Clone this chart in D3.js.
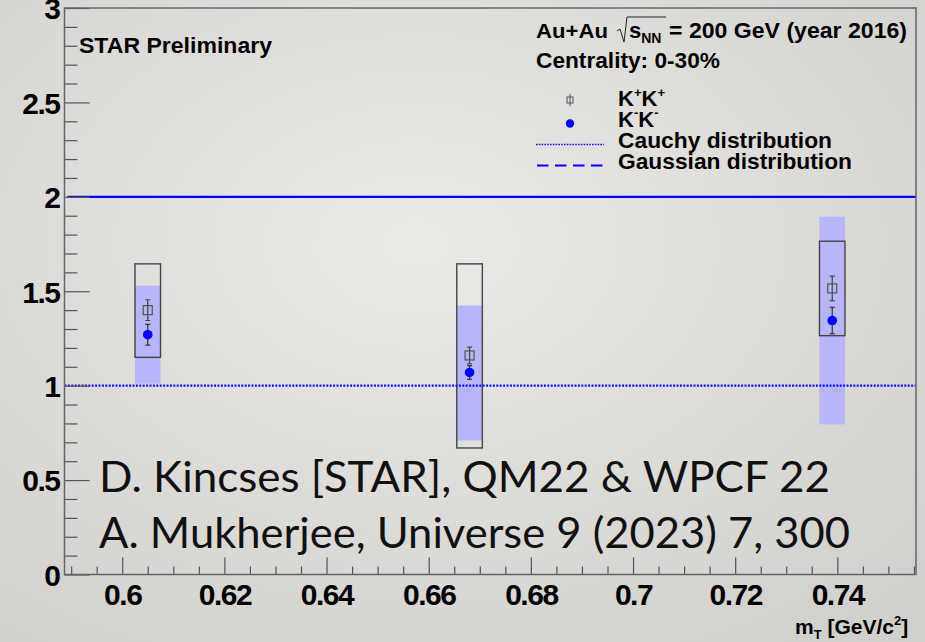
<!DOCTYPE html>
<html><head><meta charset="utf-8">
<script src="https://cdn.jsdelivr.net/npm/d3@7"></script>
<style>
html,body{margin:0;padding:0;}
svg{display:block;}
</style></head>
<body>
<svg id="c" width="925" height="642"></svg>
<script>
// ---- data ----
const mT        = [0.605, 0.668, 0.739];
const kpkp      = [1.40, 1.16, 1.515];
const kpkpErr   = [0.055, 0.044, 0.065];
const kpkpSysLo = [1.15, 0.67, 1.265];
const kpkpSysHi = [1.645, 1.645, 1.765];
const kmkm      = [1.27, 1.07, 1.345];
const kmkmErr   = [0.055, 0.036, 0.07];
const kmkmSysLo = [1.01, 0.71, 0.795];
const kmkmSysHi = [1.53, 1.425, 1.895];
const sysHalfWidth = 0.0025;
const cauchyLevel = 1;
const gaussLevel = 2;
const xMajorTicks = [0.6, 0.62, 0.64, 0.66, 0.68, 0.7, 0.72, 0.74];
const xMinorTicks = [0.59,0.595,0.605,0.61,0.615,0.625,0.63,0.635,0.645,0.65,0.655,0.665,0.67,0.675,0.685,0.69,0.695,0.705,0.71,0.715,0.725,0.73,0.735,0.745,0.75,0.755];
const yMajorTicks = [0, 0.5, 1, 1.5, 2, 2.5, 3];
const yMinorTicks = [0.1,0.2,0.3,0.4,0.6,0.7,0.8,0.9,1.1,1.2,1.3,1.4,1.6,1.7,1.8,1.9,2.1,2.2,2.3,2.4,2.6,2.7,2.8,2.9];

const svg = d3.select("#c");
const W = 925, H = 642;
const L = 64.5, R = 916, T = 8, B = 574.5;
const x = d3.scaleLinear().domain([0.5887, 0.7554]).range([L, R]);
const y = d3.scaleLinear().domain([0, 3]).range([B, T]);
const bold = "'Liberation Sans', Arial, Helvetica, sans-serif";

// background
const defs = svg.append("defs");
const rg = defs.append("radialGradient").attr("id","bg").attr("cx","45%").attr("cy","38%").attr("r","75%");
rg.append("stop").attr("offset","0%").attr("stop-color","#eceae7");
rg.append("stop").attr("offset","100%").attr("stop-color","#d2d0cc");
svg.append("rect").attr("width",W).attr("height",H).attr("fill","url(#bg)");

// clip for plot area
defs.append("clipPath").attr("id","pc").append("rect").attr("x",L).attr("y",T).attr("width",R-L).attr("height",B-T);
const plot = svg.append("g").attr("clip-path","url(#pc)");

// K-K- systematic bands
plot.selectAll("rect.band").data(mT).enter().append("rect")
  .attr("x", d => x(d - sysHalfWidth))
  .attr("width", d => x(d + sysHalfWidth) - x(d - sysHalfWidth))
  .attr("y", (d,i) => y(kmkmSysHi[i]))
  .attr("height", (d,i) => y(kmkmSysLo[i]) - y(kmkmSysHi[i]))
  .attr("fill", "#b6b6f9");

// K+K+ systematic boxes
plot.selectAll("rect.box").data(mT).enter().append("rect")
  .attr("x", d => x(d - sysHalfWidth))
  .attr("width", d => x(d + sysHalfWidth) - x(d - sysHalfWidth))
  .attr("y", (d,i) => y(kpkpSysHi[i]))
  .attr("height", (d,i) => y(kpkpSysLo[i]) - y(kpkpSysHi[i]))
  .attr("fill", "none").attr("stroke", "#444").attr("stroke-width", 1.4);

// reference lines
plot.append("line").attr("x1",L).attr("x2",R).attr("y1",y(cauchyLevel)).attr("y2",y(cauchyLevel))
  .attr("stroke","#1010ff").attr("stroke-width",2.2).attr("stroke-dasharray","2,1.4");
plot.append("line").attr("x1",L+3).attr("x2",R).attr("y1",y(gaussLevel)).attr("y2",y(gaussLevel))
  .attr("stroke","#0000ff").attr("stroke-width",2.2);

// error bars
function errBars(vals, errs, col) {
  const g = plot.append("g").attr("stroke", col).attr("stroke-width", 1.2);
  mT.forEach((d,i) => {
    const cx = x(d);
    g.append("line").attr("x1",cx).attr("x2",cx).attr("y1",y(vals[i]+errs[i])).attr("y2",y(vals[i]-errs[i]));
    g.append("line").attr("x1",cx-2.5).attr("x2",cx+2.5).attr("y1",y(vals[i]+errs[i])).attr("y2",y(vals[i]+errs[i]));
    g.append("line").attr("x1",cx-2.5).attr("x2",cx+2.5).attr("y1",y(vals[i]-errs[i])).attr("y2",y(vals[i]-errs[i]));
  });
}
errBars(kpkp, kpkpErr, "#444");
errBars(kmkm, kmkmErr, "#333");

// K+K+ open squares
plot.selectAll("rect.sq").data(mT).enter().append("rect")
  .attr("x", d => x(d) - 4.5).attr("y", (d,i) => y(kpkp[i]) - 4.5)
  .attr("width", 9).attr("height", 9)
  .attr("fill", "none").attr("stroke", "#555").attr("stroke-width", 1.2);
// K-K- filled circles
plot.selectAll("circle.km").data(mT).enter().append("circle")
  .attr("cx", d => x(d)).attr("cy", (d,i) => y(kmkm[i])).attr("r", 4.8)
  .attr("fill", "#0000ff");

// axes
const tickCol = "#555";
const xAxisMaj = d3.axisBottom(x).tickValues(xMajorTicks).tickSizeInner(-17).tickSizeOuter(0).tickPadding(9)
  .tickFormat(d => d3.format("")(+d.toFixed(2)));
const gx = svg.append("g").attr("transform",`translate(0,${B})`).call(xAxisMaj);
gx.select(".domain").remove();
gx.selectAll("line").attr("stroke", tickCol).attr("stroke-width",1.2);
gx.selectAll("text").attr("font-family",bold).attr("font-weight","bold").attr("font-size",30)
  .attr("letter-spacing","-1.5").attr("fill","#000");
const gxm = svg.append("g").attr("transform",`translate(0,${B})`)
  .call(d3.axisBottom(x).tickValues(xMinorTicks).tickSizeInner(-8).tickSizeOuter(0).tickFormat(""));
gxm.select(".domain").remove();
gxm.selectAll("line").attr("stroke", tickCol).attr("stroke-width",1.2);

const gy = svg.append("g").attr("transform",`translate(${L},0)`)
  .call(d3.axisLeft(y).tickValues(yMajorTicks).tickSizeInner(-25).tickSizeOuter(0).tickPadding(5)
    .tickFormat(d => String(d)));
gy.select(".domain").remove();
gy.selectAll("line").attr("stroke", tickCol).attr("stroke-width",1.2);
gy.selectAll("text").attr("font-family",bold).attr("font-weight","bold").attr("font-size",30)
  .attr("letter-spacing","-1.5").attr("dy","0.36em").attr("fill","#000");
const gym = svg.append("g").attr("transform",`translate(${L},0)`)
  .call(d3.axisLeft(y).tickValues(yMinorTicks).tickSizeInner(-13).tickSizeOuter(0).tickFormat(""));
gym.select(".domain").remove();
gym.selectAll("line").attr("stroke", tickCol).attr("stroke-width",1.2);

// frame
svg.append("rect").attr("x",L).attr("y",T).attr("width",R-L).attr("height",B-T)
  .attr("fill","none").attr("stroke","#666").attr("stroke-width",1.5);

// texts
function btxt(xp, yp, fs) {
  return svg.append("text").attr("x",xp).attr("y",yp).attr("font-family",bold)
    .attr("font-weight","bold").attr("font-size",fs).attr("fill","#000");
}
function fit(sel, len) { return sel.attr("textLength", len).attr("lengthAdjust","spacingAndGlyphs"); }

fit(btxt(79, 53, 22).text("STAR Preliminary"), 193);

// header
fit(btxt(536, 38, 21).text("Au+Au"), 72);
svg.append("path").attr("d","M617,31 L620,29 L624,42 L627,17 L666,17")
  .attr("fill","none").attr("stroke","#222").attr("stroke-width",1);
const hs = btxt(629, 38, 22);
hs.append("tspan").text("s");
hs.append("tspan").attr("font-size",14).attr("dy",5).text("NN");
fit(btxt(669, 38, 22).text("= 200 GeV (year 2016)"), 238);
fit(btxt(536, 68, 22).text("Centrality: 0-30%"), 184);

// legend entries
const kp = btxt(618, 106, 22);
kp.append("tspan").text("K");
kp.append("tspan").attr("font-size",13).attr("dy",-9).text("+");
kp.append("tspan").attr("dy",9).text("K");
kp.append("tspan").attr("font-size",13).attr("dy",-9).text("+");
const km = btxt(618, 127, 22);
km.append("tspan").text("K");
km.append("tspan").attr("font-size",13).attr("dy",-10).text("-");
km.append("tspan").attr("dy",10).text("K");
km.append("tspan").attr("font-size",13).attr("dy",-10).text("-");
fit(btxt(618, 148, 22).text("Cauchy distribution"), 214);
fit(btxt(618, 169, 22).text("Gaussian distribution"), 234);

// legend markers
svg.append("line").attr("x1",570).attr("x2",570).attr("y1",94).attr("y2",106).attr("stroke","#555").attr("stroke-width",1);
svg.append("rect").attr("x",567).attr("y",97).attr("width",6).attr("height",6).attr("fill","none").attr("stroke","#555").attr("stroke-width",1);
svg.append("circle").attr("cx",570).attr("cy",123.5).attr("r",4.2).attr("fill","#0000ff");
svg.append("line").attr("x1",536).attr("x2",604).attr("y1",144.5).attr("y2",144.5)
  .attr("stroke","#1010ff").attr("stroke-width",1.6).attr("stroke-dasharray","1.6,1.2");
svg.append("line").attr("x1",537).attr("x2",603).attr("y1",165.5).attr("y2",165.5)
  .attr("stroke","#0000ff").attr("stroke-width",1.8).attr("stroke-dasharray","11.5,6.5");

// axis title
const at = btxt(795, 634, 21);
at.append("tspan").text("m");
at.append("tspan").attr("font-size",13).attr("dy",5).text("T");
at.append("tspan").attr("dy",-5).text(" [GeV/c");
at.append("tspan").attr("font-size",13).attr("dy",-9).text("2");
at.append("tspan").attr("dy",9).text("]");

// citation
const cf = "Lato, 'Open Sans', sans-serif";
svg.append("text").attr("x",99).attr("y",492).attr("font-family",cf).attr("font-size",42)
  .attr("fill","#111").attr("textLength",731).attr("lengthAdjust","spacingAndGlyphs")
  .text("D. Kincses [STAR], QM22 & WPCF 22");
svg.append("text").attr("x",99).attr("y",548).attr("font-family",cf).attr("font-size",42)
  .attr("fill","#111").attr("textLength",751).attr("lengthAdjust","spacingAndGlyphs")
  .text("A. Mukherjee, Universe 9 (2023) 7, 300");
</script>
</body></html>
